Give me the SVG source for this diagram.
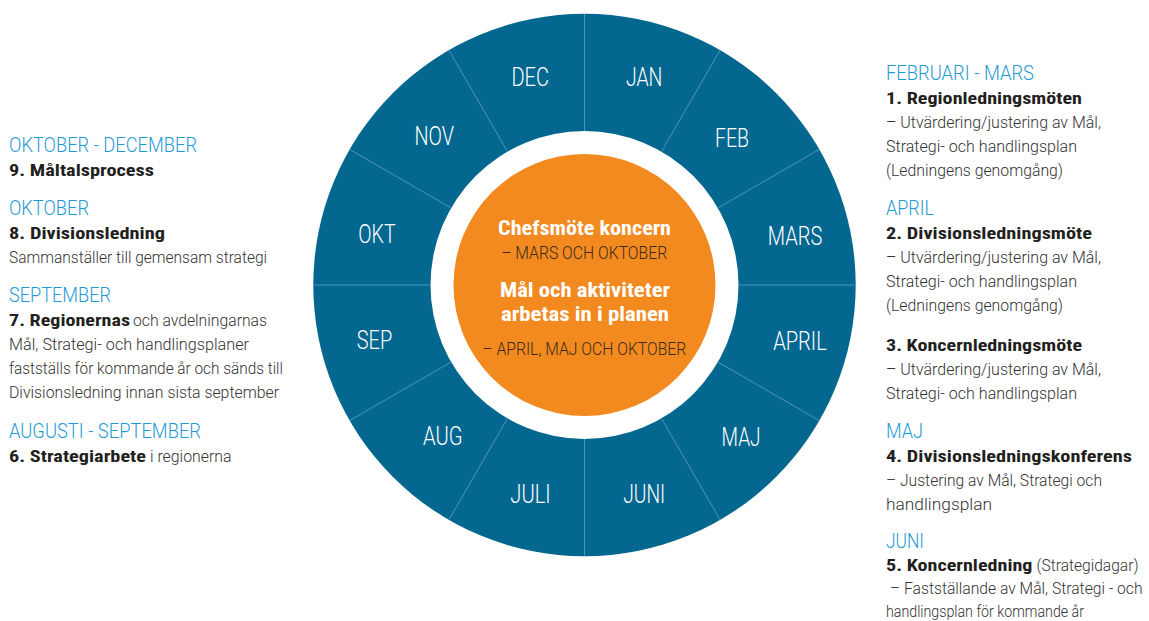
<svg xmlns="http://www.w3.org/2000/svg" width="1149" height="621" viewBox="0 0 1149 621">
<style>
text{font-family:"Liberation Sans Narrow","Roboto Condensed","Liberation Sans",Arial,sans-serif;}
.l{font-family:Roboto,"Liberation Sans Narrow","Liberation Sans",sans-serif;font-weight:300;}
.h{font-size:21px;fill:#1f9ad4;}
.b{font-size:17px;font-weight:bold;fill:#231f20;}
.t{font-size:16.5px;fill:#333333;}
.m{font-size:25px;fill:#ffffff;text-anchor:middle;}
.cb{font-size:21px;font-weight:bold;fill:#ffffff;text-anchor:middle;}
.cd{font-size:18.5px;fill:#3b2a1e;text-anchor:middle;}
.div{stroke:#4f93bb;stroke-width:1;}
</style>
<rect width="1149" height="621" fill="#ffffff"/>
<g id="wheel">
<circle cx="584.5" cy="285" r="271.2" fill="#04678f"/>
<circle cx="584.5" cy="285" r="154" fill="#ffffff"/>
</g>
<g id="dividers">
<line class="div" x1="584.5" y1="131" x2="584.5" y2="14"/>
<line class="div" x1="661.5" y1="151.63" x2="720" y2="50.31"/>
<line class="div" x1="717.87" y1="208" x2="819.19" y2="149.5"/>
<line class="div" x1="738.5" y1="285" x2="855.5" y2="285"/>
<line class="div" x1="717.87" y1="362" x2="819.19" y2="420.5"/>
<line class="div" x1="661.5" y1="418.37" x2="720" y2="519.69"/>
<line class="div" x1="584.5" y1="439" x2="584.5" y2="556"/>
<line class="div" x1="507.5" y1="418.37" x2="449" y2="519.69"/>
<line class="div" x1="451.13" y1="362" x2="349.81" y2="420.5"/>
<line class="div" x1="430.5" y1="285" x2="313.5" y2="285"/>
<line class="div" x1="451.13" y1="208" x2="349.81" y2="149.5"/>
<line class="div" x1="507.5" y1="151.63" x2="449" y2="50.31"/>
</g>
<g id="months">
<g id="m-jan"><text class="m l" x="644.2" y="85.5" textLength="36.5" lengthAdjust="spacingAndGlyphs">JAN</text></g>
<g id="m-feb"><text class="m l" x="732" y="147" textLength="34" lengthAdjust="spacingAndGlyphs">FEB</text></g>
<g id="m-mars"><text class="m l" x="795" y="244.8" textLength="54.5" lengthAdjust="spacingAndGlyphs">MARS</text></g>
<g id="m-april"><text class="m l" x="800" y="350" textLength="53.5" lengthAdjust="spacingAndGlyphs">APRIL</text></g>
<g id="m-maj"><text class="m l" x="741" y="446.3" textLength="39" lengthAdjust="spacingAndGlyphs">MAJ</text></g>
<g id="m-juni"><text class="m l" x="644.2" y="503.4" textLength="42" lengthAdjust="spacingAndGlyphs">JUNI</text></g>
<g id="m-juli"><text class="m l" x="530.5" y="503.4" textLength="40.3" lengthAdjust="spacingAndGlyphs">JULI</text></g>
<g id="m-aug"><text class="m l" x="442.7" y="445" textLength="39.5" lengthAdjust="spacingAndGlyphs">AUG</text></g>
<g id="m-sep"><text class="m l" x="374.5" y="349.3" textLength="35.5" lengthAdjust="spacingAndGlyphs">SEP</text></g>
<g id="m-okt"><text class="m l" x="377" y="243.3" textLength="37.5" lengthAdjust="spacingAndGlyphs">OKT</text></g>
<g id="m-nov"><text class="m l" x="434.2" y="145" textLength="39.5" lengthAdjust="spacingAndGlyphs">NOV</text></g>
<g id="m-dec"><text class="m l" x="530.2" y="85.5" textLength="37.5" lengthAdjust="spacingAndGlyphs">DEC</text></g>
</g>
<g id="center">
<circle cx="584.5" cy="285" r="131" fill="#f28a20"/>
<text class="cb" x="584.5" y="235" textLength="173" lengthAdjust="spacingAndGlyphs">Chefsmöte koncern</text>
<text class="cd l" x="584.2" y="259" textLength="166" lengthAdjust="spacingAndGlyphs">– MARS OCH OKTOBER</text>
<text class="cb" x="585" y="297.3" textLength="170" lengthAdjust="spacingAndGlyphs">Mål och aktiviteter</text>
<text class="cb" x="585" y="320.5" textLength="168" lengthAdjust="spacingAndGlyphs">arbetas in i planen</text>
<text class="cd l" x="584.3" y="355" textLength="204" lengthAdjust="spacingAndGlyphs">– APRIL, MAJ OCH OKTOBER</text>
</g>
<g id="block-9">
<text class="h l" x="9" y="152" textLength="188" lengthAdjust="spacingAndGlyphs">OKTOBER - DECEMBER</text>
<text class="b" x="9" y="176" textLength="145" lengthAdjust="spacingAndGlyphs">9. Måltalsprocess</text>
</g>
<g id="block-8">
<text class="h l" x="9" y="215" textLength="80" lengthAdjust="spacingAndGlyphs">OKTOBER</text>
<text class="b" x="9" y="239" textLength="156" lengthAdjust="spacingAndGlyphs">8. Divisionsledning</text>
<text class="t l" x="9" y="263" textLength="258" lengthAdjust="spacingAndGlyphs">Sammanställer till gemensam strategi</text>
</g>
<g id="block-7">
<text class="h l" x="9" y="302" textLength="102" lengthAdjust="spacingAndGlyphs">SEPTEMBER</text>
<text class="b" x="9" y="326" textLength="121" lengthAdjust="spacingAndGlyphs">7. Regionernas</text>
<text class="t l" x="133" y="326" textLength="134" lengthAdjust="spacingAndGlyphs">och avdelningarnas</text>
<text class="t l" x="9" y="350" textLength="240" lengthAdjust="spacingAndGlyphs">Mål, Strategi- och handlingsplaner</text>
<text class="t l" x="9" y="374" textLength="274" lengthAdjust="spacingAndGlyphs">fastställs för kommande år och sänds till</text>
<text class="t l" x="9" y="398" textLength="270" lengthAdjust="spacingAndGlyphs">Divisionsledning innan sista september</text>
</g>
<g id="block-6">
<text class="h l" x="9" y="438" textLength="192" lengthAdjust="spacingAndGlyphs">AUGUSTI - SEPTEMBER</text>
<text class="b" x="9" y="462" textLength="137" lengthAdjust="spacingAndGlyphs">6. Strategiarbete</text>
<text class="t l" x="150" y="462" textLength="81.5" lengthAdjust="spacingAndGlyphs">i regionerna</text>
</g>
<g id="block-1">
<text class="h l" x="886" y="80" textLength="148" lengthAdjust="spacingAndGlyphs">FEBRUARI - MARS</text>
<text class="b" x="886" y="104" textLength="196" lengthAdjust="spacingAndGlyphs">1. Regionledningsmöten</text>
<text class="t l" x="886" y="128" textLength="215" lengthAdjust="spacingAndGlyphs">– Utvärdering/justering av Mål,</text>
<text class="t l" x="886" y="152" textLength="191" lengthAdjust="spacingAndGlyphs">Strategi- och handlingsplan</text>
<text class="t l" x="886" y="176" textLength="177" lengthAdjust="spacingAndGlyphs">(Ledningens genomgång)</text>
</g>
<g id="block-2">
<text class="h l" x="886" y="215" textLength="48" lengthAdjust="spacingAndGlyphs">APRIL</text>
<text class="b" x="886" y="239" textLength="206" lengthAdjust="spacingAndGlyphs">2. Divisionsledningsmöte</text>
<text class="t l" x="886" y="263" textLength="215" lengthAdjust="spacingAndGlyphs">– Utvärdering/justering av Mål,</text>
<text class="t l" x="886" y="287" textLength="191" lengthAdjust="spacingAndGlyphs">Strategi- och handlingsplan</text>
<text class="t l" x="886" y="311" textLength="177" lengthAdjust="spacingAndGlyphs">(Ledningens genomgång)</text>
</g>
<g id="block-3">
<text class="b" x="886" y="351" textLength="196" lengthAdjust="spacingAndGlyphs">3. Koncernledningsmöte</text>
<text class="t l" x="886" y="375" textLength="215" lengthAdjust="spacingAndGlyphs">– Utvärdering/justering av Mål,</text>
<text class="t l" x="886" y="399" textLength="191" lengthAdjust="spacingAndGlyphs">Strategi- och handlingsplan</text>
</g>
<g id="block-4">
<text class="h l" x="886" y="438" textLength="37" lengthAdjust="spacingAndGlyphs">MAJ</text>
<text class="b" x="886" y="462" textLength="246" lengthAdjust="spacingAndGlyphs">4. Divisionsledningskonferens</text>
<text class="t l" x="886" y="486" textLength="216" lengthAdjust="spacingAndGlyphs">– Justering av Mål, Strategi och</text>
<text class="t l" x="886" y="510" textLength="106" lengthAdjust="spacingAndGlyphs">handlingsplan</text>
</g>
<g id="block-5">
<text class="h l" x="886" y="548" textLength="38" lengthAdjust="spacingAndGlyphs">JUNI</text>
<text class="b" x="886" y="571" textLength="146.5" lengthAdjust="spacingAndGlyphs">5. Koncernledning</text>
<text class="t l" x="1036.5" y="571" textLength="102" lengthAdjust="spacingAndGlyphs">(Strategidagar)</text>
<g transform="translate(890,594) scale(0.88,1)">
<text class="t l" x="0" y="0" textLength="287" lengthAdjust="spacingAndGlyphs">– Fastställande av Mål, Strategi - och</text>
</g>
<text class="t l" x="886" y="616.5" textLength="198" lengthAdjust="spacingAndGlyphs">handlingsplan för kommande år</text>
</g>
</svg>
